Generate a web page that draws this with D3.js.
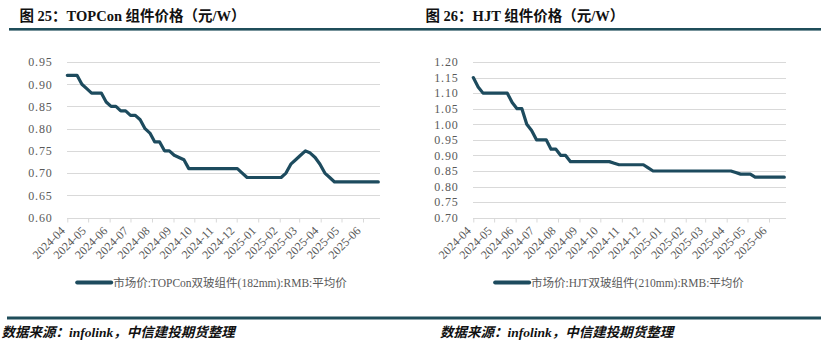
<!DOCTYPE html>
<html><head><meta charset="utf-8">
<script src="https://cdn.jsdelivr.net/npm/d3@7"></script>
<style>
html,body{margin:0;padding:0;background:#fff;}
svg{display:block;}
</style></head>
<body>
<svg id="c" width="827" height="346"></svg>
<script>
// ---- data ----
const dates = [
"2024-04-03","2024-04-10","2024-04-17","2024-04-24","2024-05-01","2024-05-08","2024-05-15","2024-05-22","2024-05-29",
"2024-06-05","2024-06-12","2024-06-19","2024-06-26","2024-07-03","2024-07-10","2024-07-17","2024-07-24","2024-07-31",
"2024-08-07","2024-08-14","2024-08-21","2024-08-28","2024-09-04","2024-09-11","2024-09-18","2024-09-25",
"2024-10-02","2024-10-09","2024-10-16","2024-10-23","2024-10-30","2024-11-06","2024-11-13","2024-11-20","2024-11-27",
"2024-12-04","2024-12-11","2024-12-18","2024-12-25",
"2025-01-01","2025-01-08","2025-01-15","2025-01-22","2025-01-29","2025-02-05","2025-02-12","2025-02-19","2025-02-26",
"2025-03-05","2025-03-12","2025-03-19","2025-03-26","2025-04-02","2025-04-09","2025-04-16","2025-04-23","2025-04-30",
"2025-05-07","2025-05-14","2025-05-21","2025-05-28","2025-06-04","2025-06-11","2025-06-18","2025-06-25"
];
const topconPrice = [
0.92,0.92,0.92,0.90,0.89,0.88,0.88,0.88,0.86,0.85,0.85,0.84,0.84,0.83,0.83,0.82,0.80,0.79,0.77,0.77,
0.75,0.75,0.74,0.735,0.73,0.71,
0.71,0.71,0.71,0.71,0.71,0.71,0.71,0.71,0.71,0.71,
0.70,
0.69,0.69,0.69,0.69,0.69,0.69,0.69,0.69,
0.70,0.72,0.73,0.74,0.75,0.745,0.735,0.72,0.70,0.69,
0.68,0.68,0.68,0.68,0.68,0.68,0.68,0.68,0.68,0.68
];
const hjtPrice = [
1.15,1.12,
1.10,1.10,1.10,1.10,1.10,1.10,
1.07,1.05,1.05,1.00,0.98,0.95,0.95,0.95,0.92,0.92,0.90,0.90,
0.88,0.88,0.88,0.88,0.88,0.88,0.88,0.88,0.88,
0.875,
0.87,0.87,0.87,0.87,0.87,0.87,
0.86,
0.85,0.85,0.85,0.85,0.85,0.85,0.85,0.85,0.85,0.85,0.85,0.85,0.85,0.85,0.85,0.85,0.85,
0.845,
0.84,0.84,0.84,
0.83,0.83,0.83,0.83,0.83,0.83,0.83
];
const monthLabels = ["2024-04","2024-05","2024-06","2024-07","2024-08","2024-09","2024-10","2024-11","2024-12",
"2025-01","2025-02","2025-03","2025-04","2025-05","2025-06"];
const topconTicks = [0.60,0.65,0.70,0.75,0.80,0.85,0.90,0.95];
const hjtTicks = [0.70,0.75,0.80,0.85,0.90,0.95,1.00,1.05,1.10,1.15,1.20];
const titles = ["图 25：TOPCon 组件价格（元/W）","图 26：HJT 组件价格（元/W）"];
const legendNames = ["市场价:TOPCon双玻组件(182mm):RMB:平均价","市场价:HJT双玻组件(210mm):RMB:平均价"];
const sourceText = "数据来源：infolink，中信建投期货整理";

// ---- drawing ----
const svg = d3.select("#c");
const parse = d3.timeParse("%Y-%m-%d");
const lineColor = "#1d4b5e";
const barColor = "#1f4d5a";

// top & bottom bars (continuous across both panels)
svg.append("rect").attr("x",9).attr("y",28).attr("width",812).attr("height",2.6).attr("fill",barColor);
svg.append("rect").attr("x",7).attr("y",316.5).attr("width",814).attr("height",3).attr("fill",barColor);

function panel(cfg){
  const g = svg.append("g");
  g.append("text").attr("x",cfg.titleX).attr("y",21)
    .attr("font-family","'Liberation Serif','Noto Sans CJK SC',serif")
    .attr("font-weight","bold").attr("font-size","14.5px").attr("fill","#111")
    .text(cfg.title);

  const x = d3.scaleTime().domain([parse(dates[0]), parse(dates[dates.length-1])]).range([cfg.x0, cfg.x1]);
  const y = d3.scaleLinear().domain([cfg.ticks[0], cfg.ticks[cfg.ticks.length-1]]).range([cfg.yBottom, cfg.yTop]);

  // gridlines
  g.append("g").selectAll("line").data(cfg.ticks).join("line")
    .attr("x1",cfg.gx0).attr("x2",cfg.gx1)
    .attr("y1",d=>Math.round(y(d))+0.5).attr("y2",d=>Math.round(y(d))+0.5)
    .attr("stroke","#d9d9d9").attr("stroke-width",1);

  // y axis labels
  const yAxis = d3.axisLeft(y).tickValues(cfg.ticks).tickFormat(d3.format(".2f")).tickSize(0).tickPadding(0);
  const ya = g.append("g").attr("transform",`translate(${cfg.labelRight},0)`).call(yAxis);
  ya.select(".domain").remove();
  ya.selectAll("text").attr("font-family","'Liberation Serif',serif").attr("font-size","12px")
    .attr("letter-spacing","0.8px").attr("fill","#595959");

  // x axis
  const tickDates = monthLabels.map(m=>parse(m + "-" + dates[0].slice(8)));
  const xAxis = d3.axisBottom(x).tickValues(tickDates).tickSize(4).tickFormat((d,i)=>monthLabels[i]);
  const xa = g.append("g").attr("transform",`translate(0,${Math.round(cfg.yBottom)+0.5})`).call(xAxis);
  xa.select(".domain").attr("d",`M${cfg.gx0},0H${cfg.gx1}`).attr("stroke","#d9d9d9");
  xa.selectAll(".tick line").attr("stroke","#d9d9d9");
  xa.selectAll(".tick text")
    .attr("font-family","'Liberation Serif',serif").attr("font-size","12px").attr("fill","#595959")
    .attr("text-anchor","end").attr("y",0).attr("dy",0)
    .attr("transform","translate(-2,13) rotate(-45)");

  // line
  const lineGen = d3.line().x((d,i)=>x(parse(dates[i]))).y(d=>y(d)).curve(d3.curveLinear);
  g.append("path").datum(cfg.values).attr("d",lineGen)
    .attr("fill","none").attr("stroke",lineColor).attr("stroke-width",3.2)
    .attr("stroke-linejoin","round").attr("stroke-linecap","round");

  // legend
  const lg = g.append("g");
  lg.append("line").attr("x1",0).attr("x2",34).attr("y1",0).attr("y2",0)
    .attr("stroke",lineColor).attr("stroke-width",4).attr("stroke-linecap","round");
  const lt = lg.append("text").attr("x",36).attr("y",0).attr("dy","0.36em")
    .attr("font-family","'Liberation Serif','Noto Sans CJK SC',serif").attr("font-size","11.5px")
    .attr("fill","#595959").text(cfg.legend);
  const w = 36 + lt.node().getComputedTextLength();
  lg.attr("transform",`translate(${cfg.legendCenter - w/2},282.5)`);

  // source
  g.append("text").attr("x",cfg.srcX).attr("y",337)
    .attr("font-family","'Liberation Serif','Noto Sans CJK SC',serif")
    .attr("font-weight","bold").attr("font-style","italic").attr("font-size","13.5px").attr("fill","#111")
    .text(sourceText);
}

panel({title:titles[0], titleX:19.5, x0:67.3, x1:378.3, gx0:67, gx1:380, yTop:62, yBottom:217.5,
  ticks:topconTicks, values:topconPrice, labelRight:52.5, legend:legendNames[0], legendCenter:212, srcX:1.5});
panel({title:titles[1], titleX:425.5, x0:473.3, x1:784.3, gx0:473, gx1:786, yTop:62, yBottom:217.7,
  ticks:hjtTicks, values:hjtPrice, labelRight:458.5, legend:legendNames[1], legendCenter:619.5, srcX:440});
</script>
</body></html>
